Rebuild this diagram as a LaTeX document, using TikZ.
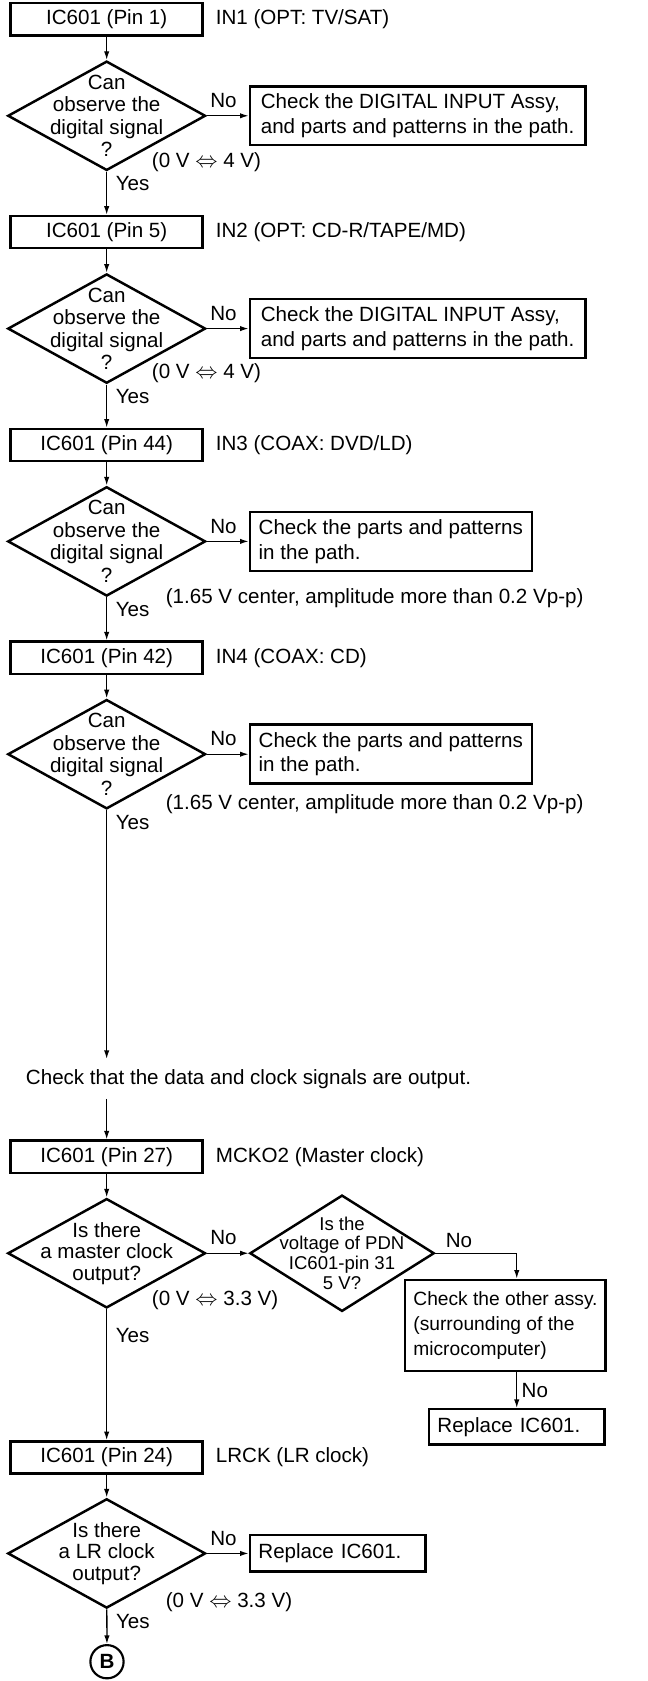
\documentclass[tikz,border=0pt]{standalone}
\usepackage{fontspec}
\setmainfont{Liberation Sans}
\usepackage{amsmath,amssymb}
\usetikzlibrary{arrows.meta,positioning,shapes.geometric}

\begin{document}
\begin{tikzpicture}[x=1pt,y=-1pt,
font=\fontsize{19.2}{23}\selectfont,
pinbox/.style={draw,line width=2.3pt,minimum width=179pt,minimum height=30pt,inner sep=0pt},
chkbox/.style={draw,line width=2.3pt,align=left,inner sep=0pt},
repbox/.style={draw,line width=2.3pt,align=left,text width=148pt,inner xsep=8pt,inner ysep=0pt},
dia/.style={draw,diamond,aspect=1.81,line width=2.3pt,align=center,inner xsep=0pt,inner ysep=-24pt,minimum width=184.5pt,minimum height=102pt,font=\fontsize{19.2}{21}\selectfont},
sidelab/.style={inner sep=3pt},
note/.style={anchor=west,inner sep=0pt},
arrow/.style={-{Latex[length=8pt,width=5pt]},line width=1.2pt},
nolab/.style={above=6pt,inner sep=1pt,pos=0.4},
yeslab/.style={at start,anchor=north west,inner sep=4pt,xshift=4pt}
]
\useasboundingbox (0,0) rectangle (604,1568);

\node[pinbox] (pin1) at (99.5,18) {IC601 (Pin 1)};
\node[sidelab,right=8pt of pin1] (in1) {IN1 (OPT: TV/SAT)};
\node[dia] (d1) at (99.5,108) {Can\\observe the\\digital signal\\?};
\node[chkbox,minimum width=313pt,minimum height=55pt,right=39pt of d1] (nb1) {Check the DIGITAL INPUT Assy,\\and parts and patterns in the path.};
\node[note] (ann1) at ([shift={(42,43)}]d1.center) {(0 V $\Leftrightarrow$ 4 V)};

\node[pinbox] (pin2) at (99.5,216.5) {IC601 (Pin 5)};
\node[sidelab,right=8pt of pin2] (in2) {IN2 (OPT: CD-R/TAPE/MD)};
\node[dia] (d2) at (99.5,306.5) {Can\\observe the\\digital signal\\?};
\node[chkbox,minimum width=313pt,minimum height=55pt,right=39pt of d2] (nb2) {Check the DIGITAL INPUT Assy,\\and parts and patterns in the path.};
\node[note] (ann2) at ([shift={(42,42)}]d2.center) {(0 V $\Leftrightarrow$ 4 V)};

\node[pinbox] (pin3) at (99.5,415) {IC601 (Pin 44)};
\node[sidelab,right=8pt of pin3] (in3) {IN3 (COAX: DVD/LD)};
\node[dia] (d3) at (99.5,505) {Can\\observe the\\digital signal\\?};
\node[chkbox,minimum width=263pt,minimum height=55pt,right=39pt of d3] (nb3) {Check the parts and patterns\\in the path.};
\node[note] (ann3) at ([shift={(55,52.5)}]d3.center) {(1.65 V center, amplitude more than 0.2 Vp-p)};

\node[pinbox] (pin4) at (99.5,613.5) {IC601 (Pin 42)};
\node[sidelab,right=8pt of pin4] (in4) {IN4 (COAX: CD)};
\node[dia] (d4) at (99.5,703.5) {Can\\observe the\\digital signal\\?};
\node[chkbox,minimum width=263pt,minimum height=55pt,right=39pt of d4] (nb4) {Check the parts and patterns\\in the path.};
\node[note] (ann4) at ([shift={(55,46.5)}]d4.center) {(1.65 V center, amplitude more than 0.2 Vp-p)};

\node[anchor=west,inner xsep=0pt,inner ysep=9.5pt] (chk) at (24,1006.4) {Check that the data and clock signals are output.};

\node[pinbox] (pin5) at (99.5,1079) {IC601 (Pin 27)};
\node[sidelab,right=8pt of pin5] (mck) {MCKO2 (Master clock)};
\node[dia,font=\fontsize{19.2}{20}\selectfont] (d5) at (99.5,1169) {Is there\\a master clock\\output?};
\node[dia,aspect=1.585,minimum width=172pt,minimum height=108.5pt,font=\fontsize{17.3}{18.5}\selectfont,right=39pt of d5] (pdn) {Is the\\voltage of PDN\\IC601-pin 31\\5 V?};
\node[chkbox,minimum width=187pt,minimum height=85pt,font=\fontsize{17.9}{23}\selectfont] (oth) at (471.5,1236.3) {Check the other assy.\\(surrounding of the\\microcomputer)};
\node[repbox,minimum height=33pt] (rep1) at (482,1331) {Replace IC601.};
\node[note] (ann5) at ([shift={(42,44)}]d5.center) {(0 V $\Leftrightarrow$ 3.3 V)};

\node[pinbox] (pin6) at (99.5,1359.5) {IC601 (Pin 24)};
\node[sidelab,right=8pt of pin6] (lrck) {LRCK (LR clock)};
\node[dia,font=\fontsize{19.2}{20}\selectfont] (d6) at (99.5,1449) {Is there\\a LR clock\\output?};
\node[repbox,minimum height=34pt,right=39pt of d6] (rep2) {Replace IC601.};
\node[note] (ann6) at ([shift={(55,45)}]d6.center) {(0 V $\Leftrightarrow$ 3.3 V)};

\node[circle,draw,line width=2pt,minimum size=31pt,inner sep=0pt,font=\bfseries\fontsize{19.2}{23}\selectfont] (B) at (99.8,1550) {B};

\draw[arrow] (pin1) -- (d1);
\draw[arrow] (d1) -- node[nolab] {No} (nb1);
\draw[arrow] (d1) -- node[yeslab] {Yes} (pin2);
\draw[arrow] (pin2) -- (d2);
\draw[arrow] (d2) -- node[nolab] {No} (nb2);
\draw[arrow] (d2) -- node[yeslab] {Yes} (pin3);
\draw[arrow] (pin3) -- (d3);
\draw[arrow] (d3) -- node[nolab] {No} (nb3);
\draw[arrow] (d3) -- node[yeslab] {Yes} (pin4);
\draw[arrow] (pin4) -- (d4);
\draw[arrow] (d4) -- node[nolab] {No} (nb4);
\draw[arrow] (d4) -- node[yeslab] {Yes} (d4 |- chk.north);
\draw[arrow] (pin5 |- chk.south) -- (pin5);
\draw[arrow] (pin5) -- (d5);
\draw[arrow] (d5) -- node[nolab] {No} (pdn);
\draw[arrow] (pdn.east) -| node[at start,anchor=south west,inner sep=1pt,xshift=8pt,yshift=4pt] {No} (rep1 |- oth.north);
\draw[arrow] (rep1 |- oth.south) -- node[right,inner sep=1pt,xshift=3pt] {No} (rep1);
\draw[arrow] (d5) -- node[yeslab,yshift=-13pt] {Yes} (pin6);
\draw[arrow] (pin6) -- (d6);
\draw[arrow] (d6) -- node[nolab] {No} (rep2);
\draw[arrow] (d6) -- node[yeslab] {Yes} (B);
\end{tikzpicture}
\end{document}
